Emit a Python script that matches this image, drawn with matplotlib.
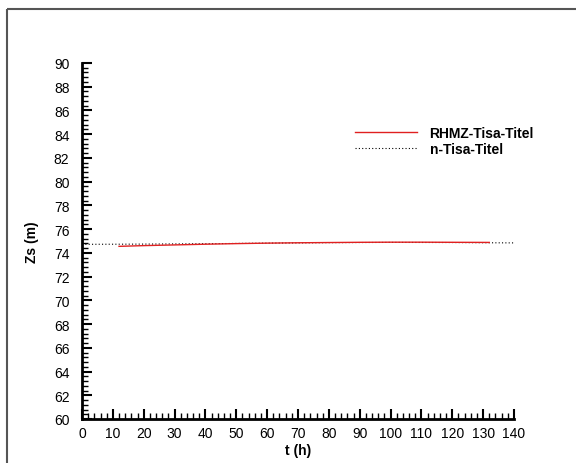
import matplotlib
matplotlib.use("Agg")
import matplotlib.pyplot as plt
from matplotlib.lines import Line2D
from matplotlib.ticker import MultipleLocator

plt.rcParams['font.family'] = ['Liberation Sans', 'DejaVu Sans']

t_rhmz = [12, 20, 30, 40, 50, 60, 70, 80, 90, 100, 110, 120, 132]
zs_rhmz = [74.55, 74.61, 74.67, 74.73, 74.78, 74.82, 74.85, 74.87, 74.89, 74.90, 74.90, 74.89, 74.88]
t_n = [0, 12, 20, 40, 60, 80, 100, 120, 132, 140]
zs_n = [74.72, 74.73, 74.74, 74.77, 74.82, 74.86, 74.88, 74.87, 74.85, 74.84]
x_ticks = list(range(0, 141, 10))
y_ticks = list(range(60, 91, 2))

fig = plt.figure(figsize=(5.76, 4.64), dpi=100)
ax = fig.add_axes([82/576, 1-420/464, (514-82)/576, (420-64)/464])

ax.plot(t_n, zs_n, color='black', linestyle=(0, (1, 2)), linewidth=0.8, label='n-Tisa-Titel', zorder=2)
ax.plot(t_rhmz, zs_rhmz, color='#e02020', linewidth=1.0, label='RHMZ-Tisa-Titel', zorder=3)

ax.set_xlim(0, 140)
ax.set_ylim(60, 90)
ax.set_xticks(x_ticks)
ax.set_yticks(y_ticks)
ax.xaxis.set_minor_locator(MultipleLocator(2))
ax.yaxis.set_minor_locator(MultipleLocator(0.4))
for s in ['top', 'right']:
    ax.spines[s].set_visible(False)
for s in ['left', 'bottom']:
    ax.spines[s].set_linewidth(2)
ax.tick_params(which='major', direction='in', length=7, width=1.5, labelsize=10)
ax.tick_params(axis='y', which='major', pad=9)
ax.tick_params(axis='x', which='major', pad=5)
ax.tick_params(which='minor', direction='in', length=4, width=1)
ax.set_xlabel('t (h)', fontsize=10, fontweight='bold', labelpad=2)
ax.set_ylabel('Zs (m)', fontsize=10, fontweight='bold', labelpad=11)

h, l = ax.get_legend_handles_labels()
leg = ax.legend(h[::-1], l[::-1], loc='upper left', bbox_to_anchor=(267/432, 1-(121-64)/356),
                frameon=False, prop={'weight': 'bold', 'size': 10}, handlelength=4.5,
                handletextpad=0.9, labelspacing=0.15, borderaxespad=0)

fx, fy = 6.5/576, 1 - 9.5/464
fig.lines.append(Line2D([fx, fx], [0.0, fy], transform=fig.transFigure, color='#555555',
                        linewidth=1.5, solid_capstyle='butt'))
fig.lines.append(Line2D([fx, 1.0], [fy, fy], transform=fig.transFigure, color='#555555',
                        linewidth=1.5, solid_capstyle='butt'))

fig.savefig('out.png', dpi=100)
